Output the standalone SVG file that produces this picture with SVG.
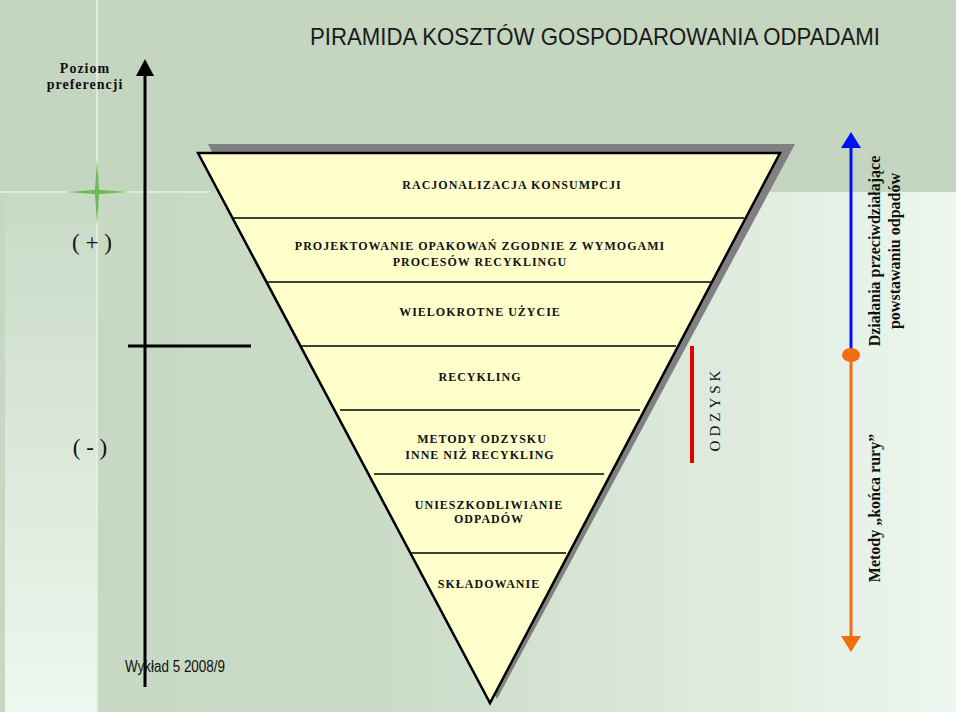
<svg xmlns="http://www.w3.org/2000/svg" width="960" height="716" viewBox="0 0 960 716">
<defs>
<linearGradient id="bg" x1="0" y1="0" x2="1" y2="0"><stop offset="0" stop-color="#c6d8c2"/><stop offset="0.4" stop-color="#cadbc7"/><stop offset="1" stop-color="#ecf6ee"/></linearGradient>
<linearGradient id="lft" x1="0" y1="0" x2="0" y2="1"><stop offset="0" stop-color="#c8dac6"/><stop offset="1" stop-color="#eef7ef"/></linearGradient>
</defs>
<style>
.lbl{font-family:"Liberation Serif",serif;font-weight:bold;font-size:12px;letter-spacing:1px;fill:#111;text-anchor:middle}
.side{font-family:"Liberation Serif",serif;font-weight:bold;font-size:16px;fill:#111;text-anchor:middle}
.lay{stroke:#000;stroke-width:1.6}
</style>
<rect width="960" height="716" fill="#fff"/>
<rect x="0" y="0" width="956" height="712" fill="url(#bg)"/>
<rect x="0" y="0" width="956" height="192" fill="#c4d5c0"/>
<rect x="5" y="192" width="92" height="520" fill="url(#lft)"/>
<line x1="97" y1="0" x2="97" y2="712" stroke="#e6f2e6" stroke-width="1.5"/>
<line x1="0" y1="192" x2="210" y2="192" stroke="#e6f2e6" stroke-width="1.5"/>
<g id="sparkle"><path d="M97,160 L99,190 L130,192 L99,194 L97,225 L95,194 L65,192 L95,190z" fill="#4fb030" opacity="0.8"/></g>
<text x="595" y="45" font-family="Liberation Sans,sans-serif" font-size="24" fill="#1a1a1a" text-anchor="middle" textLength="570" lengthAdjust="spacingAndGlyphs">PIRAMIDA KOSZTÓW GOSPODAROWANIA ODPADAMI</text>
<g id="axis-label"><text x="85" y="73" class="lbl" style="font-size:14px">Poziom</text><text x="85" y="89" class="lbl" style="font-size:14px">preferencji</text></g>
<text x="92" y="250" font-family="Liberation Serif,serif" font-size="23" fill="#111" text-anchor="middle">( + )</text>
<text x="90" y="455" font-family="Liberation Serif,serif" font-size="23" fill="#111" text-anchor="middle">( - )</text>
<g id="connectors">
<line x1="145" y1="687" x2="145" y2="74" stroke="#000" stroke-width="3"/>
<path d="M136,76 L145,59 L154,76z" fill="#000"/>
<line x1="128" y1="346" x2="251" y2="346" stroke="#000" stroke-width="3"/>
<line x1="692" y1="346" x2="692" y2="463" stroke="#e00000" stroke-width="4"/>
<line x1="851" y1="355" x2="851" y2="146" stroke="#0010f0" stroke-width="3"/>
<path d="M841,148 L851,132 L861,148z" fill="#0010f0"/>
<line x1="851" y1="355" x2="851" y2="638" stroke="#f26c10" stroke-width="3"/>
<path d="M841,636 L851,652 L861,636z" fill="#f26c10"/>
<ellipse cx="851" cy="355" rx="9" ry="7" fill="#f26c10"/>
</g>
<g id="pyramid">
<polygon points="208,144 795,144 497,699" fill="#808080"/>
<polygon points="198,153 780,153 490,703" fill="#ffffcc" stroke="#000" stroke-width="2.5"/>
<line class="lay" x1="233" y1="218" x2="744" y2="218"/>
<line class="lay" x1="266" y1="282" x2="711" y2="282"/>
<line class="lay" x1="300" y1="346" x2="676" y2="346"/>
<line class="lay" x1="340" y1="410" x2="640" y2="410"/>
<line class="lay" x1="374" y1="474" x2="604" y2="474"/>
<line class="lay" x1="411" y1="553" x2="566" y2="553"/>
</g>
<g id="n1"><text class="lbl" x="512" y="189">RACJONALIZACJA KONSUMPCJI</text></g>
<g id="n2"><text class="lbl" x="480" y="250">PROJEKTOWANIE OPAKOWAŃ ZGODNIE Z  WYMOGAMI</text><text class="lbl" x="480" y="266">PROCESÓW RECYKLINGU</text></g>
<g id="n3"><text class="lbl" x="480" y="316">WIELOKROTNE UŻYCIE</text></g>
<g id="n4"><text class="lbl" x="480" y="381">RECYKLING</text></g>
<g id="n5"><text class="lbl" x="482" y="443">METODY ODZYSKU</text><text class="lbl" x="480" y="459">INNE NIŻ RECYKLING</text></g>
<g id="n6"><text class="lbl" x="489" y="509">UNIESZKODLIWIANIE</text><text class="lbl" x="489" y="523">ODPADÓW</text></g>
<g id="n7"><text class="lbl" x="489" y="588">SKŁADOWANIE</text></g>
<text transform="translate(720,409) rotate(-90)" font-family="Liberation Serif,serif" font-size="15" letter-spacing="4" fill="#111" text-anchor="middle">ODZYSK</text>
<text class="side" transform="translate(880,251) rotate(-90)">Działania przeciwdziałające</text>
<text class="side" transform="translate(900,251) rotate(-90)">powstawaniu odpadów</text>
<text class="side" transform="translate(880,508) rotate(-90)">Metody „końca rury”</text>
<text x="125" y="672" font-family="Liberation Sans,sans-serif" font-size="16" fill="#111" textLength="100" lengthAdjust="spacingAndGlyphs">Wykład 5 2008/9</text>
</svg>
